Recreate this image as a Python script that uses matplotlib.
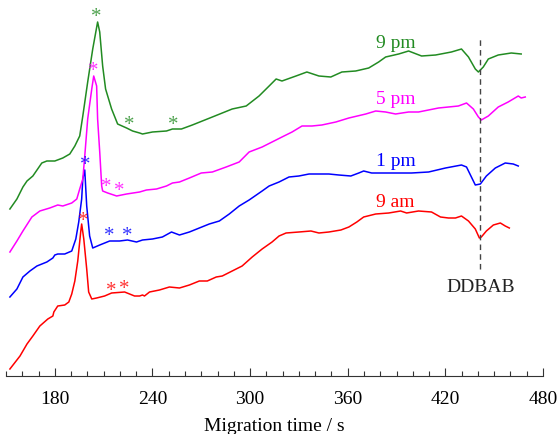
import matplotlib
matplotlib.use("Agg")
import matplotlib.pyplot as plt
from matplotlib.ticker import MultipleLocator

plt.rcParams['font.family'] = ['Liberation Serif', 'DejaVu Serif']

# traces: migration time (s) and signal (a.u., already offset for stacking)
t_9am = [152.4, 158.6, 162.9, 166.5, 170.8, 175.7, 178.8, 179.4, 181.8, 186.1, 188.6, 190.4,
         192.3, 194.1, 195.9, 196.5, 197.8, 199.6, 200.8, 202.7, 205.7, 210.6, 214.9, 222.9,
         229.0, 232.1, 233.9, 235.1, 238.2, 244.3, 250.4, 256.6, 262.7, 268.8, 273.7, 279.2,
         282.9, 289.0, 295.1, 301.3, 307.4, 313.5, 317.8, 322.1, 330.0, 337.4, 342.3, 348.4,
         355.8, 360.7, 365.6, 369.8, 377.2, 385.2, 392.5, 396.2, 403.5, 411.5, 417.0, 421.9,
         426.2, 429.9, 434.2, 438.4, 440.9, 442.1, 445.2, 449.5, 453.8, 456.8, 459.3]
s_9am = [7, 20, 32, 40, 50, 57, 60, 64, 70, 71, 74, 82,
         95, 115, 144, 152, 137, 107, 84, 77, 78, 80, 83, 84,
         80, 80, 81, 80, 84, 86, 89, 88, 91, 95, 95, 99,
         100, 105, 110, 119, 127, 134, 140, 143, 144, 145, 143, 144,
         146, 149, 154, 159, 162, 163, 165, 163, 165, 164, 159, 158,
         158, 160, 155, 147, 138, 139, 145, 151, 153, 150, 148]

t_1pm = [152.4, 156.7, 160.4, 164.7, 169.0, 175.1, 178.8, 180.0, 181.8, 186.1, 190.4, 192.9,
         194.7, 196.5, 197.2, 198.4, 199.6, 201.4, 203.3, 207.6, 213.7, 219.8, 224.7, 230.2,
         233.9, 240.0, 246.1, 251.7, 256.6, 262.7, 268.8, 274.9, 281.1, 287.2, 293.3, 299.4,
         307.4, 311.7, 317.8, 323.9, 330.0, 336.2, 348.4, 354.5, 361.9, 366.8, 369.8, 374.7,
         382.1, 393.1, 399.2, 409.7, 420.1, 429.9, 433.0, 436.0, 438.4, 441.5, 445.2, 450.7,
         456.8, 461.7, 464.8]
s_1pm = [79, 87, 99, 105, 110, 114, 118, 121, 122, 122, 125, 137,
         154, 177, 197, 206, 170, 140, 128, 131, 135, 135, 136, 134,
         136, 137, 139, 144, 141, 144, 148, 152, 155, 162, 170, 176,
         185, 190, 194, 199, 200, 202, 202, 201, 200, 203, 205, 203,
         203, 203, 203, 204, 208, 211, 209, 199, 191, 192, 200, 208,
         213, 212, 210]

t_5pm = [152.4, 156.7, 160.4, 165.9, 170.8, 176.9, 181.8, 184.9, 190.4, 193.5, 195.3, 197.2,
         198.4, 200.2, 202.7, 203.9, 205.7, 206.3, 207.6, 208.8, 209.4, 212.5, 218.0, 224.1,
         232.1, 236.3, 242.5, 248.6, 252.3, 256.6, 262.7, 270.0, 276.8, 285.3, 293.3, 299.4,
         307.4, 313.5, 319.6, 325.8, 331.9, 338.0, 344.1, 352.7, 360.7, 371.1, 377.2, 383.3,
         389.4, 397.4, 403.5, 415.8, 428.0, 433.0, 437.2, 440.3, 442.1, 446.4, 452.5, 458.6,
         464.8, 466.6, 469.1]
s_5pm = [124, 135, 145, 159, 165, 168, 171, 170, 173, 177, 187, 197,
         220, 257, 287, 300, 290, 257, 224, 190, 185, 183, 180, 182,
         184, 186, 187, 190, 193, 194, 198, 203, 204, 209, 214, 224,
         229, 234, 239, 244, 250, 250, 251, 254, 258, 262, 265, 264,
         262, 264, 264, 268, 270, 273, 267, 259, 256, 260, 269, 274,
         280, 278, 279]

t_9pm = [152.4, 156.7, 160.4, 162.9, 166.5, 172.0, 175.1, 180.0, 184.9, 189.2, 192.3, 195.3,
         197.2, 200.2, 203.3, 206.3, 207.6, 209.4, 211.2, 214.9, 218.6, 224.1, 227.8, 232.1,
         233.9, 240.0, 248.6, 252.3, 257.8, 264.5, 276.8, 289.0, 297.6, 305.5, 311.7, 316.0,
         319.6, 328.2, 334.9, 342.3, 349.6, 356.4, 364.9, 372.9, 379.0, 383.3, 391.3, 397.4,
         405.4, 414.0, 423.7, 429.9, 434.2, 438.4, 440.3, 443.3, 446.4, 452.5, 460.5, 466.6]
s_9pm = [167, 177, 189, 195, 200, 213, 215, 215, 218, 222, 230, 240,
         260, 294, 327, 354, 344, 310, 287, 267, 252, 248, 245, 243,
         242, 244, 245, 247, 247, 251, 259, 267, 270, 280, 290, 297,
         295, 300, 304, 300, 299, 304, 305, 308, 314, 319, 322, 325,
         320, 321, 324, 327, 319, 307, 304, 309, 317, 321, 323, 322]

labels = ['9 am', '1 pm', '5 pm', '9 pm']
colors = ['#ff0000', '#0000ff', '#ff00ff', '#228b22']
label_y = [174, 215, 277, 334]
label_t = 389.4

# marked peaks (*)
star_t = [[197.2, 214.9, 222.9], [198.4, 213.7, 224.7],
          [203.9, 211.8, 219.8], [205.7, 225.9, 252.9]]
star_s = [[155, 86, 88], [211, 140, 140],
          [305, 189, 185], [359, 251, 252]]

ddbab_t = 441.5

fig = plt.figure(figsize=(5.58, 4.35), dpi=100)
ax = fig.add_axes([6 / 558, 58 / 435, 537 / 558, 377 / 435])

traces = [(t_9am, s_9am), (t_1pm, s_1pm), (t_5pm, s_5pm), (t_9pm, s_9pm)]
for (t, s), c, lab, ly, st, ss in zip(traces, colors, labels, label_y, star_t, star_s):
    ax.plot(t, s, color=c, lw=1.1)
    ax.text(label_t, ly, lab, color=c, fontsize=14, ha='center', va='center')
    for x, y in zip(st, ss):
        ax.text(x, y, '*', color=c, fontsize=15, ha='center', va='center', alpha=0.8)

ax.plot([ddbab_t, ddbab_t], [107, 337], color='#444444', lw=1.0, ls=(0, (4, 3)))
ax.text(ddbab_t, 90, 'DDBAB', fontsize=14, ha='center', va='center', color='#222222')

ax.set_xlim(150, 480)
ax.set_ylim(0, 377)
for side in ['top', 'right', 'left']:
    ax.spines[side].set_visible(False)
ax.spines['bottom'].set_color('#333333')
ax.set_yticks([])
ax.xaxis.set_major_locator(MultipleLocator(60))
ax.xaxis.set_minor_locator(MultipleLocator(10))
ax.tick_params(axis='x', which='major', direction='in', length=6, width=0.8,
               labelsize=14, pad=10, color='#333333')
ax.tick_params(axis='x', which='minor', direction='in', length=3.5, width=0.8, color='#333333')
ax.set_xlabel('Migration time / s', fontsize=14, labelpad=7)

fig.savefig('out.png', dpi=100)
